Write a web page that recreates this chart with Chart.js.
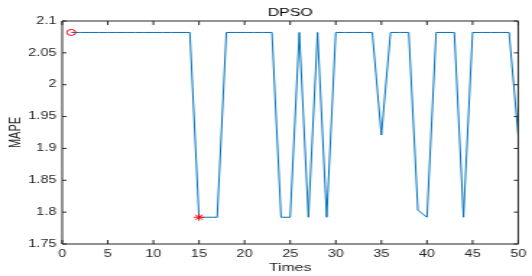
<!DOCTYPE html>
<html>
<head>
<meta charset="utf-8">
<script src="https://cdn.jsdelivr.net/npm/chart.js@4"></script>
<style>
  html, body { margin: 0; padding: 0; background: #fff; }
</style>
</head>
<body>
<!-- the reference is stretched horizontally, so draw narrow and scale the canvas -->
<canvas id="c" width="368" height="276" style="width:532px;height:276px"></canvas>
<script>
const times = [
    1, 2, 3, 4, 5, 6, 7, 8, 9, 10,
    11, 12, 13, 14, 15, 16, 17, 18, 19, 20,
    21, 22, 23, 24, 25, 26, 27, 28, 29, 30,
    31, 32, 33, 34, 35, 36, 37, 38, 39, 40,
    41, 42, 43, 44, 45, 46, 47, 48, 49, 50,
];
const mape = [
    2.082, 2.082, 2.082, 2.082, 2.082, 2.082, 2.082, 2.082, 2.082, 2.082,
    2.082, 2.082, 2.082, 2.082, 1.792, 1.792, 1.792, 2.082, 2.082, 2.082,
    2.082, 2.082, 2.082, 1.792, 1.792, 2.082, 1.792, 2.082, 1.792, 2.082,
    2.082, 2.082, 2.082, 2.082, 1.921, 2.082, 2.082, 2.082, 1.803, 1.792,
    2.082, 2.082, 2.082, 1.792, 2.082, 2.082, 2.082, 2.082, 2.082, 1.921,
];
const startPoint = [{ x: 1, y: 2.082 }];   // red circle
const bestPoint  = [{ x: 15, y: 1.792 }];  // red star

const xTicks = [0, 5, 10, 15, 20, 25, 30, 35, 40, 45, 50];
const yTicks = [1.75, 1.8, 1.85, 1.9, 1.95, 2, 2.05, 2.1];

const AXIS = '#262626';
const FONT = '"Liberation Sans", Arial, Helvetica, sans-serif';

// MATLAB style box with inward ticks on all four sides, plus the title
const frame = {
    id: 'frame',
    afterDraw(chart) {
        const { ctx, chartArea: a, scales: { x, y } } = chart;
        const tl = 4;
        ctx.save();
        ctx.strokeStyle = AXIS;
        ctx.lineWidth = 1;
        ctx.beginPath();
        ctx.rect(a.left, a.top, a.right - a.left, a.bottom - a.top);
        xTicks.forEach(v => {
            const px = x.getPixelForValue(v);
            ctx.moveTo(px, a.bottom); ctx.lineTo(px, a.bottom - tl);
            ctx.moveTo(px, a.top);    ctx.lineTo(px, a.top + tl);
        });
        yTicks.forEach(v => {
            const py = y.getPixelForValue(v);
            ctx.moveTo(a.left, py);  ctx.lineTo(a.left + tl - 1, py);
            ctx.moveTo(a.right, py); ctx.lineTo(a.right - tl + 1, py);
        });
        ctx.stroke();

        ctx.fillStyle = '#000';
        ctx.font = `11px ${FONT}`;
        ctx.textAlign = 'center';
        ctx.textBaseline = 'middle';
        ctx.fillText('DPSO', (a.left + a.right) / 2, 12.5);
        ctx.restore();
    },
};

new Chart(document.getElementById('c'), {
    type: 'line',
    data: {
        datasets: [
            {
                label: 'DPSO',
                data: times.map((t, i) => ({ x: t, y: mape[i] })),
                borderColor: '#0072BD',
                borderWidth: 1,
                pointRadius: 0,
                tension: 0,
                order: 2,
            },
            {
                label: 'start',
                data: startPoint,
                showLine: false,
                pointStyle: 'circle',
                pointRadius: 3,
                pointBorderColor: '#FF0000',
                pointBackgroundColor: 'rgba(0,0,0,0)',
                pointBorderWidth: 1,
                order: 1,
            },
            {
                label: 'best',
                data: bestPoint,
                showLine: false,
                pointStyle: 'star',
                pointRadius: 3.5,
                pointBorderColor: '#FF0000',
                pointBorderWidth: 1,
                order: 1,
            },
        ],
    },
    options: {
        responsive: false,
        devicePixelRatio: 1,
        animation: false,
        layout: { padding: { top: 21, right: 3, left: 0, bottom: 0 } },
        plugins: {
            legend: { display: false },
            tooltip: { enabled: false },
            title: { display: false },
        },
        scales: {
            x: {
                type: 'linear',
                min: 0, max: 50,
                afterBuildTicks: s => { s.ticks = xTicks.map(v => ({ value: v })); },
                afterFit: s => { s.height = 32; },
                grid: { display: false, drawTicks: false },
                border: { display: false },
                ticks: {
                    color: AXIS, padding: 4, maxRotation: 0, autoSkip: false,
                    font: { family: FONT, size: 10 },
                },
                title: {
                    display: true, text: 'Times', color: AXIS,
                    padding: { top: 0, bottom: 1.5 },
                    font: { family: FONT, size: 11 },
                },
            },
            y: {
                min: 1.75, max: 2.1,
                afterBuildTicks: s => { s.ticks = yTicks.map(v => ({ value: v })); },
                afterFit: s => { s.width = 43; },
                grid: { display: false, drawTicks: false },
                border: { display: false },
                ticks: {
                    color: AXIS, padding: 4, autoSkip: false,
                    font: { family: FONT, size: 10 },
                    callback: v => String(Number(v.toFixed(2))),
                },
                title: {
                    display: true, text: 'MAPE', color: AXIS,
                    padding: { top: 4, bottom: 0 },
                    font: { family: FONT, size: 11 },
                },
            },
        },
    },
    plugins: [frame],
});
</script>
</body>
</html>
